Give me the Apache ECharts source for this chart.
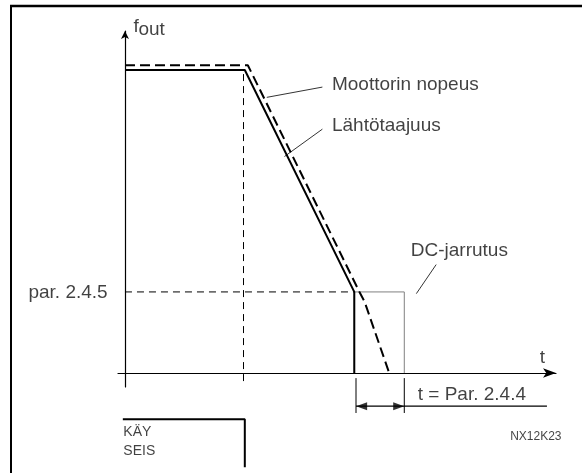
<!DOCTYPE html>
<html>
<head>
<meta charset="utf-8">
<script src="https://cdn.jsdelivr.net/npm/echarts@6/dist/echarts.min.js"></script>
<style>
html, body { margin: 0; background: #fff; }
#main { width: 582px; height: 473px; }
</style>
</head>
<body>
<div id="main"></div>
<script>
// aika t ja taajuus f, kaavion omissa yksiköissä
var outputFreq = [[0, 88.6], [27.8, 88.6], [53.2, 23.7], [53.2, 0]];          // Lähtötaajuus
var motorSpeed = [[0, 90], [28.5, 90], [54.4, 23.7], [55.6, 20.8], [61.3, 0]]; // Moottorin nopeus
var stopLine = [[27.5, 87.4], [27.5, -3.5]];
var brakeLevel = [[0, 23.7], [53.2, 23.7]];
var dcBox = [[53.2, 0], [53.2, 23.7], [64.8, 23.7], [64.8, 0]];
var runStop = [[-0.5, -13.5], [27.8, -13.5], [27.8, -27.6]];
var spanTicks = [[[53.6, -1.5], [53.6, -11.7]], [[64.8, -1.5], [64.8, -11.7]]];
var spanLine = [[53.6, -9.7], [97.9, -9.7]];
var arrowHeads = [[54.9, -9.7], [63.5, -9.7]];
var leaders = [
    [[45.8, 83.6], [32.9, 80.6]],
    [[45.8, 71.3], [37.0, 63.3]],
    [[72.2, 31.7], [67.6, 23.2]]
];
var bigLabels = [
    [47.9, 84.2, 'Moottorin nopeus'],
    [47.9, 72.3, 'Lähtötaajuus'],
    [66.2, 35.8, 'DC-jarrutus'],
    [96.1, 4.4, 't'],
    [67.8, -6.5, 't = Par. 2.4.4'],
    [1.85, 101.3, 'f'],
    [3.0, 100.4, 'out']
];
var leftLabels = [[-3.9, 23.6, 'par. 2.4.5']];
var stateLabels = [[-0.5, -17.3, 'KÄY'], [-0.5, -22.8, 'SEIS']];
var codeLabels = [[101.4, -18.7, 'NX12K23']];

var dom = document.getElementById('main');
var myChart = echarts.init(dom);
var font = 'Liberation Sans, Arial, sans-serif';

var lineSeries = function (data, width, dash, color) {
    return {
        type: 'line',
        data: data,
        showSymbol: false,
        symbol: 'none',
        silent: true,
        clip: false,
        lineStyle: { color: color || '#000', width: width, type: dash || 'solid' }
    };
};

var textSeries = function (items, size, side) {
    return {
        type: 'scatter',
        symbolSize: 1,
        silent: true,
        clip: false,
        itemStyle: { color: 'transparent' },
        data: items.map(function (d) {
            return { value: [d[0], d[1]], name: d[2] };
        }),
        label: {
            show: true,
            position: side,
            distance: 0,
            formatter: '{b}',
            color: '#111',
            fontSize: size,
            fontFamily: font
        }
    };
};

var series = [
    lineSeries(dcBox, 1, null, '#808080'),
    lineSeries(outputFreq, 2),
    lineSeries(motorSpeed, 2, [10, 5]),
    lineSeries(stopLine, 1, [7, 5]),
    lineSeries(brakeLevel, 1, [7, 5]),
    lineSeries(runStop, 2),
    lineSeries(spanLine, 1.2)
];
spanTicks.forEach(function (s) { series.push(lineSeries(s, 1)); });
leaders.forEach(function (s) { series.push(lineSeries(s, 0.8)); });

// nuolenkärjet DC-jarrutuksen keston mittaviivaan
series.push({
    type: 'scatter',
    silent: true,
    clip: false,
    symbol: 'triangle',
    symbolSize: [8, 11],
    itemStyle: { color: '#000' },
    data: [
        { value: arrowHeads[0], symbolRotate: 90 },
        { value: arrowHeads[1], symbolRotate: -90 }
    ]
});

series.push(textSeries(bigLabels, 19, 'right'));
series.push(textSeries(leftLabels, 19, 'left'));
series.push(textSeries(stateLabels, 14, 'right'));
series.push(textSeries(codeLabels, 12, 'left'));

var option = {
    backgroundColor: '#ffffff',
    animation: false,
    grid: { left: 118, right: 26, top: 31, bottom: 86 },
    xAxis: {
        type: 'value',
        min: -1.62,
        max: 100,
        axisLine: {
            onZero: true,
            symbol: ['none', 'arrow'],
            symbolSize: [7, 13],
            lineStyle: { color: '#000', width: 1.2 }
        },
        axisTick: { show: false },
        axisLabel: { show: false },
        splitLine: { show: false }
    },
    yAxis: {
        type: 'value',
        min: -4.1,
        max: 100,
        axisLine: {
            show: true,
            onZero: true,
            symbol: ['none', 'arrow'],
            symbolSize: [6, 8],
            lineStyle: { color: '#000', width: 1.2 }
        },
        axisTick: { show: false },
        axisLabel: { show: false },
        splitLine: { show: false }
    },
    graphic: [
        { type: 'line', shape: { x1: 10, y1: 6, x2: 582, y2: 6 }, style: { stroke: '#000', lineWidth: 2.5 } },
        { type: 'line', shape: { x1: 11, y1: 5, x2: 11, y2: 473 }, style: { stroke: '#000', lineWidth: 2 } }
    ],
    series: series
};

myChart.setOption(option, true);
</script>
</body>
</html>
